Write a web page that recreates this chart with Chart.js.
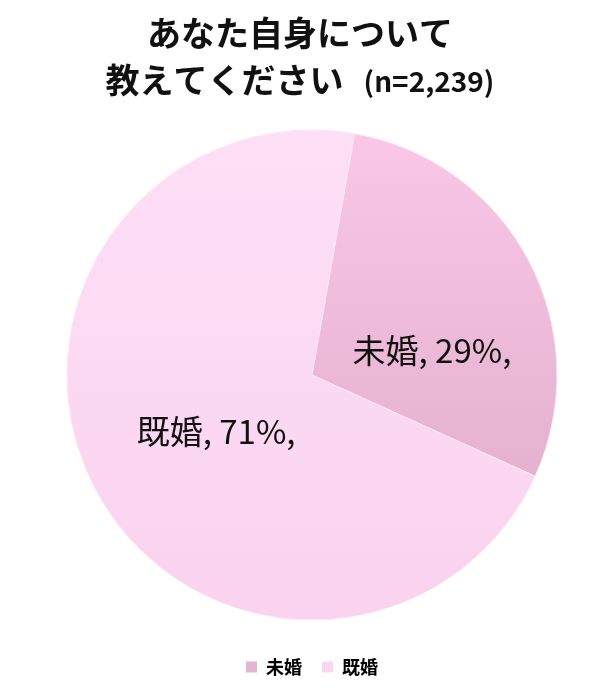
<!DOCTYPE html>
<html>
<head>
<meta charset="utf-8">
<script src="https://cdn.jsdelivr.net/npm/chart.js@4/dist/chart.umd.min.js"></script>
<style>
  html, body { margin: 0; padding: 0; background: #fff; }
  #wrap { width: 600px; height: 696px; }
</style>
</head>
<body>
<div id="wrap"><canvas id="pieChart"></canvas></div>
<script>
const categories = ['未婚', '既婚'];
const shares = [29, 71];
const titleLine1 = 'あなた自身について';
const titleLine2 = '教えてください';
const sampleNote = '(n=2,239)';

const jpFont = '"Noto Sans CJK JP", "Noto Sans", sans-serif';

// ラベルを扇形の中に描く
const sliceLabels = {
  id: 'sliceLabels',
  afterDatasetsDraw(chart) {
    const ctx = chart.ctx;
    const meta = chart.getDatasetMeta(0);
    const nudge = [0.28, -0.05]; // 角度の微調整（ラジアン）
    const dist = [0.5, 0.455];
    meta.data.forEach((arc, i) => {
      const mid = (arc.startAngle + arc.endAngle) / 2 + nudge[i];
      const r = arc.outerRadius * dist[i];
      const x = arc.x + Math.cos(mid) * r;
      const y = arc.y + Math.sin(mid) * r;
      ctx.save();
      ctx.font = '33px ' + jpFont;
      ctx.fillStyle = '#111';
      ctx.textAlign = 'center';
      ctx.textBaseline = 'middle';
      ctx.fillText(categories[i] + ', ' + shares[i] + '%,', x, y);
      ctx.restore();
    });
  }
};

// タイトル（2行目は n= の部分だけ小さめ）
const titleBlock = {
  id: 'titleBlock',
  afterDraw(chart) {
    const ctx = chart.ctx;
    const cx = chart.width / 2;
    ctx.save();
    ctx.fillStyle = '#111';
    ctx.textBaseline = 'middle';
    ctx.textAlign = 'center';
    ctx.font = 'bold 34px ' + jpFont;
    ctx.fillText(titleLine1, cx, 33);
    ctx.textAlign = 'left';
    const w1 = ctx.measureText(titleLine2).width;
    ctx.font = 'bold 28px ' + jpFont;
    const w2 = ctx.measureText(sampleNote).width;
    const gap = 20;
    const x0 = cx - (w1 + gap + w2) / 2;
    ctx.font = 'bold 34px ' + jpFont;
    ctx.fillText(titleLine2, x0, 80);
    ctx.font = 'bold 28px ' + jpFont;
    ctx.fillText(sampleNote, x0 + w1 + gap, 81);
    ctx.restore();
  }
};

function sliceColor(c) {
  const chart = c.chart;
  const area = chart.chartArea;
  if (!area) return '#f5c3e1';
  const g = chart.ctx.createLinearGradient(0, 130, 0, 620);
  if (c.dataIndex === 0) {
    g.addColorStop(0, '#fac8e6');
    g.addColorStop(1, '#dba8c6');
  } else {
    g.addColorStop(0, '#fddff6');
    g.addColorStop(1, '#fad3ee');
  }
  return g;
}

new Chart(document.getElementById('pieChart'), {
  type: 'pie',
  data: {
    labels: categories,
    datasets: [{
      data: shares,
      backgroundColor: sliceColor,
      borderColor: '#fce6f4',
      borderWidth: 1,
      radius: 245
    }]
  },
  options: {
    responsive: true,
    maintainAspectRatio: false,
    animation: false,
    rotation: 10,
    layout: { padding: { left: 24, right: 0, top: 112, bottom: 10 } },
    plugins: {
      title: { display: false },
      legend: {
        position: 'bottom',
        labels: {
          color: '#111',
          font: { family: jpFont, size: 18, weight: 'bold' },
          boxWidth: 11,
          boxHeight: 11,
          padding: 20,
          generateLabels(chart) {
            const fills = ['#e6b4d3', '#fbd6ef'];
            return categories.map((c, i) => ({
              text: c,
              fillStyle: fills[i],
              strokeStyle: fills[i],
              lineWidth: 0,
              index: i
            }));
          }
        }
      },
      tooltip: { enabled: false }
    }
  },
  plugins: [sliceLabels, titleBlock]
});
</script>
</body>
</html>
